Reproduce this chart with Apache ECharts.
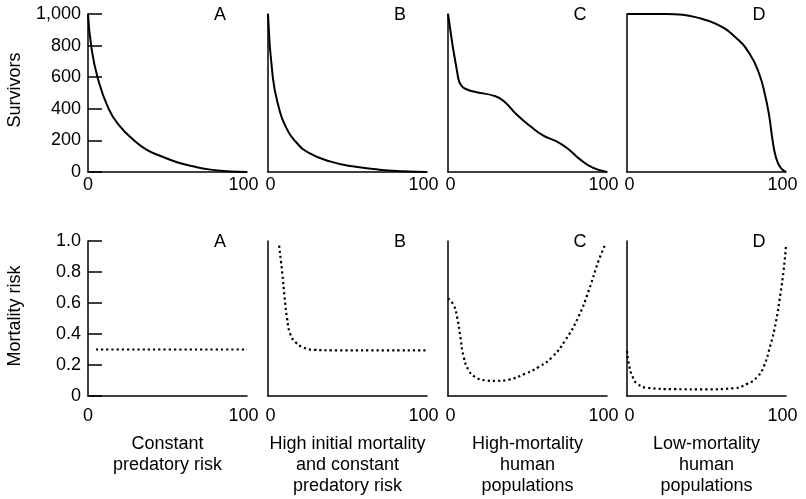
<!DOCTYPE html>
<html>
<head>
<meta charset="utf-8">
<script src="https://cdn.jsdelivr.net/npm/echarts@6/dist/echarts.min.js"></script>
<style>html,body{margin:0;padding:0;background:#fff}#c{width:806px;height:499px}</style>
</head>
<body>
<div id="c"></div>
<script>
const panelLetters = ['A', 'B', 'C', 'D'];
const captions = [
  'Constant\npredatory risk',
  'High initial mortality\nand constant\npredatory risk',
  'High-mortality\nhuman\npopulations',
  'Low-mortality\nhuman\npopulations'
];
const xTickLabels = ['0', '100'];
const survivorTickLabels = ['0', '200', '400', '600', '800', '1,000'];
const riskTickLabels = ['0', '0.2', '0.4', '0.6', '0.8', '1.0'];
const survivorAxisName = 'Survivors';
const riskAxisName = 'Mortality risk';

// Survivors (0..1000) vs age (0..100)
const survivorsA = [[0,1000],[2,800],[6,600],[13,400],[20,290],[29,200],[37,140],[46,100],[56,62],[66,36],[77,15],[87,5],[100,0]];
const survivorsB = [[0,1000],[3,600],[7,400],[11,290],[18,185],[26,120],[39,67],[53,36],[70,15],[85,5],[100,0]];
const survivorsC = [[0,1000],[6.5,590],[8.5,545],[12,522],[18,505],[29,482],[35,450],[43,365],[52,288],[60,230],[68,195],[75,150],[83,80],[91,28],[100,0]];
const survivorsD = [[0,1000],[25,1000],[35,995],[43,980],[56,937],[68,855],[77,750],[83,625],[87,480],[89.5,350],[91.5,205],[93.5,100],[96.5,28],[100,0]];

// Mortality risk (0..1) vs age (0..100)
const riskA = [[5,0.3],[100,0.3]];
const riskB = [[7,0.97],[9,0.79],[10.5,0.63],[12,0.5],[14,0.4],[17.5,0.345],[22.5,0.312],[29,0.298],[40,0.295],[100,0.295]];
const riskC = [[0,0.63],[3.6,0.585],[5.7,0.51],[7.8,0.38],[9.9,0.25],[13,0.166],[17,0.123],[23.5,0.101],[30,0.097],[38,0.105],[48.6,0.144],[57,0.187],[65.4,0.25],[73.8,0.36],[82,0.51],[88.5,0.68],[94.8,0.875],[99,0.98]];
const riskD = [[0,0.29],[1.5,0.19],[3.5,0.125],[6.5,0.08],[13,0.052],[30,0.044],[50,0.043],[67,0.05],[76,0.08],[82,0.123],[86,0.19],[90,0.32],[93.5,0.47],[96.5,0.66],[98.5,0.81],[100,0.97]];

const survivorSeries = [survivorsA, survivorsB, survivorsC, survivorsD];
const riskSeries = [riskA, riskB, riskC, riskD];

const FONT = 'Liberation Sans, Arial, Helvetica, sans-serif';
const colLeft = [88, 268, 448, 627];
const colWidth = 159;
const rows = [{top: 14, height: 158, labelMargin: 4}, {top: 241, height: 155, labelMargin: 11}];

const grids = [], xAxes = [], yAxes = [], series = [], graphics = [];
let gi = 0;
rows.forEach((row, r) => {
  colLeft.forEach((left, c) => {
    grids.push({left: left, top: row.top, width: colWidth, height: row.height, containLabel: false, outerBoundsMode: 'none'});
    const zeroStyle = c === 0 ? 'z0' : 'z';
    xAxes.push({
      type: 'value', gridIndex: gi, min: 0, max: 100, interval: 100,
      axisLine: {show: true, lineStyle: {color: '#000', width: 1.5}},
      axisTick: {show: false}, splitLine: {show: false},
      axisLabel: {show: true, showMinLabel: true, showMaxLabel: true, margin: row.labelMargin,
        color: '#000', fontSize: 18, fontFamily: FONT,
        formatter: v => {
          const i = Math.round(v / 100);
          return i === 0 ? '{' + zeroStyle + '|' + xTickLabels[0] + '}' : '{h|' + xTickLabels[1] + '}';
        },
        rich: {
          z0: {fontSize: 18, fontFamily: FONT, color: '#000'},
          z: {fontSize: 18, fontFamily: FONT, color: '#000', padding: [0, 0, 0, 5]},
          h: {fontSize: 18, fontFamily: FONT, color: '#000', padding: [0, 7, 0, 0]}
        }}
    });
    const isFirst = c === 0;
    const ticks = r === 0 ? survivorTickLabels : riskTickLabels;
    yAxes.push({
      type: 'value', gridIndex: gi, min: 0,
      max: r === 0 ? 1000 : 1, interval: r === 0 ? 200 : 0.2,
      axisLine: {show: true, onZero: false, lineStyle: {color: '#000', width: 1.5}},
      axisTick: {show: isFirst, inside: true, length: 14, lineStyle: {color: '#000', width: 1.5}},
      splitLine: {show: false},
      axisLabel: {show: isFirst, margin: 7, color: '#000', fontSize: 18, fontFamily: FONT,
        formatter: v => ticks[Math.round(v / (r === 0 ? 200 : 0.2))]}
    });
    const dotted = r === 1;
    series.push({
      type: 'line', xAxisIndex: gi, yAxisIndex: gi,
      data: (r === 0 ? survivorSeries : riskSeries)[c],
      showSymbol: false, smooth: 0.5, silent: true,
      lineStyle: {color: '#000', width: dotted ? 2.2 : 2, type: dotted ? [2.2, 3] : 'solid', cap: 'butt', join: 'round'}
    });
    graphics.push({
      type: 'text', x: left + colWidth - 27, y: r === 0 ? 15.5 : 242,
      style: {text: panelLetters[c], font: '18px ' + FONT, fill: '#000', textAlign: 'center', textVerticalAlign: 'middle'}
    });
    gi++;
  });
});

colLeft.forEach((left, c) => {
  graphics.push({
    type: 'text', x: left + colWidth / 2, y: 434,
    style: {text: captions[c], font: '18px ' + FONT, fill: '#000', textAlign: 'center', textVerticalAlign: 'top', lineHeight: 21}
  });
});
graphics.push({
  type: 'text', x: 15, y: 90, rotation: Math.PI / 2,
  style: {text: survivorAxisName, font: '18px ' + FONT, fill: '#000', textAlign: 'center', textVerticalAlign: 'middle'}
});
graphics.push({
  type: 'text', x: 15, y: 316, rotation: Math.PI / 2,
  style: {text: riskAxisName, font: '18px ' + FONT, fill: '#000', textAlign: 'center', textVerticalAlign: 'middle'}
});

const chart = echarts.init(document.getElementById('c'), null, {renderer: 'canvas'});
chart.setOption({
  animation: false,
  backgroundColor: '#fff',
  grid: grids, xAxis: xAxes, yAxis: yAxes, series: series,
  graphic: graphics
});
</script>
</body>
</html>
